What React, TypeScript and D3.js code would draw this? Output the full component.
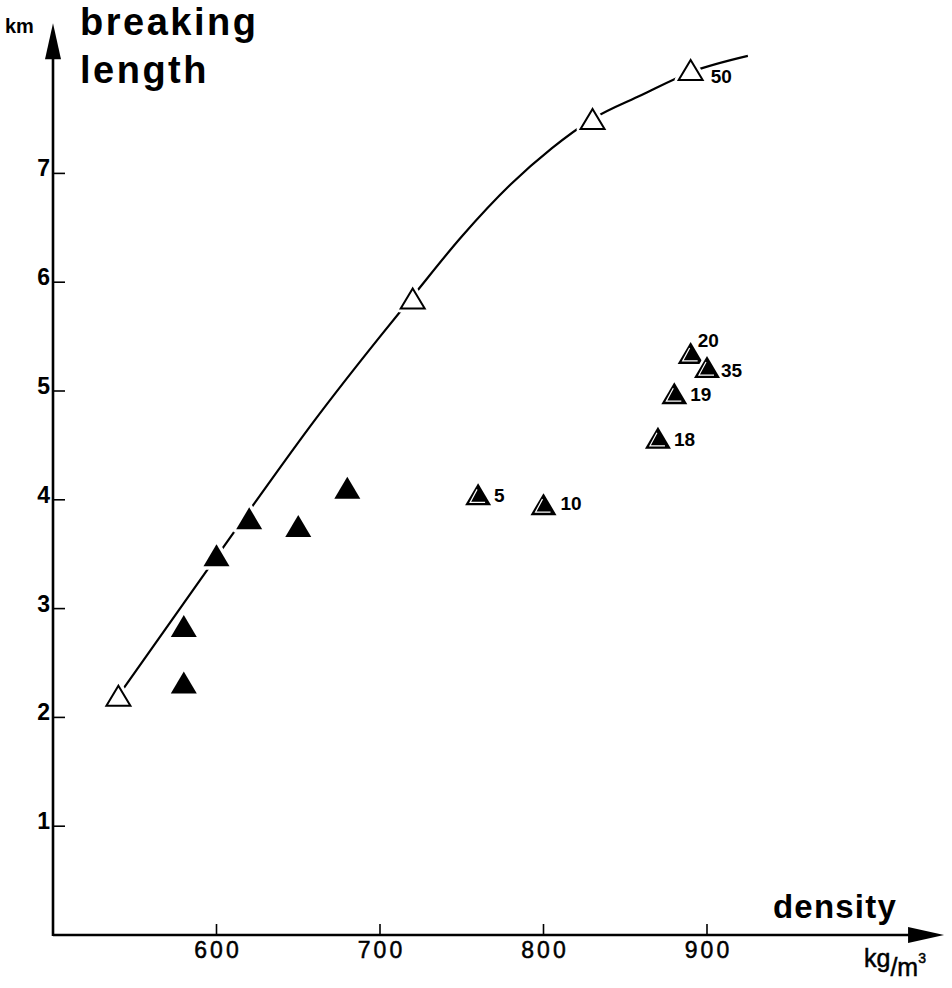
import React from "react";
import * as d3 from "d3";

const W = 952;
const H = 988;

// axis ticks
const densityTicks = [600, 700, 800, 900];
const lengthTicks = [1, 2, 3, 4, 5, 6, 7];

// fitted curve
const curveDensity = [541, 580, 620, 660, 700, 720, 750, 780, 805, 830, 860, 890, 925];
const curveLength = [2.22, 3.05, 3.9, 4.73, 5.5, 5.87, 6.42, 6.9, 7.23, 7.5, 7.72, 7.93, 8.08];

// open triangles
const openDensity = [540, 720, 830, 890];
const openLength = [2.2, 5.85, 7.5, 7.95];
const openLabels = ["", "", "", "50"];

// solid triangles
const solidDensity = [580, 580, 600, 620, 650, 680];
const solidLength = [2.32, 2.84, 3.49, 3.83, 3.76, 4.11];

// hatched triangles
const hatchDensity = [760, 800, 870, 880, 890, 900];
const hatchLength = [4.05, 3.96, 4.57, 4.98, 5.35, 5.22];
const hatchLabels = ["5", "10", "18", "19", "20", "35"];

const FONT = "'Liberation Sans', Arial, Helvetica, sans-serif";
const TW = 26; // triangle width
const TH = 22; // triangle height

const tri = (cx: number, cy: number, w = TW, h = TH) =>
  `M${cx},${cy - h / 2}L${cx + w / 2},${cy + h / 2}L${cx - w / 2},${cy + h / 2}Z`;

// label offsets (style only)
const labelOffset: Record<string, [number, number]> = {
  "20": [7, -6],
  "35": [14, 10],
  "50": [20, 13],
  "10": [17, 6],
};

export default function App() {
  const x = d3.scaleLinear().domain([500, 1000]).range([53, 870.5]);
  const y = d3.scaleLinear().domain([0, 8]).range([935, 64.6]);

  const x0 = x(500);
  const y0 = y(0);
  const xEnd = x(1045);
  const yTop = y(8.38);

  const curvePts = curveDensity.map((d, i) => [d, curveLength[i]] as [number, number]);
  const line = d3
    .line<[number, number]>()
    .x((d) => x(d[0]))
    .y((d) => y(d[1]))
    .curve(d3.curveMonotoneX);

  const label = (txt: string, cx: number, cy: number) => {
    if (!txt) return null;
    const [dx, dy] = labelOffset[txt] || [16, 8];
    return (
      <text x={cx + dx} y={cy + dy} fontSize={19} fontFamily={FONT} fontWeight="bold" fill="#000">
        {txt}
      </text>
    );
  };

  return (
    <svg
      width={W}
      height={H}
      style={{ position: "absolute", left: 0, top: 0, background: "#fff" }}
    >
      <rect width={W} height={H} fill="#fff" />

      {/* axes */}
      <line x1={x0} y1={y0} x2={xEnd - 20} y2={y0} stroke="#000" strokeWidth={2.6} />
      <path d={`M${xEnd},${y0}L${xEnd - 36},${y0 - 8}L${xEnd - 36},${y0 + 8}Z`} fill="#000" />
      <line x1={x0} y1={y0 + 1} x2={x0} y2={yTop + 20} stroke="#000" strokeWidth={2.6} />
      <path d={`M${x0},${yTop}L${x0 + 8},${yTop + 36}L${x0 - 8},${yTop + 36}Z`} fill="#000" />

      {/* x ticks */}
      {densityTicks.map((t) => (
        <g key={t}>
          <line x1={x(t)} y1={y0} x2={x(t)} y2={y0 - 11} stroke="#000" strokeWidth={1.6} />
          <text
            x={x(t) + 1.5}
            y={y0 + 23}
            textAnchor="middle"
            fontSize={23}
            fontFamily={FONT}
            letterSpacing={3}
            stroke="#000"
            strokeWidth={0.5}
            fill="#000"
          >
            {t}
          </text>
        </g>
      ))}

      {/* y ticks */}
      {lengthTicks.map((t) => (
        <g key={t}>
          <line x1={x0} y1={y(t)} x2={x0 + 12} y2={y(t)} stroke="#000" strokeWidth={1.6} />
          <text
            x={x0 - 3}
            y={y(t) + 3}
            textAnchor="end"
            fontSize={23}
            fontFamily={FONT}
            fontWeight="bold"
            fill="#000"
          >
            {t}
          </text>
        </g>
      ))}

      {/* axis titles */}
      <text x={5} y={33} fontSize={20} fontFamily={FONT} fontWeight="bold" fill="#000">km</text>
      <text x={80} y={35} fontSize={38} fontFamily={FONT} fontWeight="bold" letterSpacing={2.5} fill="#000">breaking</text>
      <text x={80} y={83} fontSize={38} fontFamily={FONT} fontWeight="bold" letterSpacing={2.5} fill="#000">length</text>
      <text x={773} y={918} fontSize={33} fontFamily={FONT} fontWeight="bold" letterSpacing={1.2} fill="#000">density</text>
      <text x={864} y={967} fontSize={25} fontFamily={FONT} fill="#000" stroke="#000" strokeWidth={0.5}>
        kg
        <tspan fontSize={25} dy={9}>/m</tspan>
        <tspan fontSize={14} dy={-13}>3</tspan>
      </text>

      {/* curve */}
      <path d={line(curvePts) || ""} fill="none" stroke="#000" strokeWidth={2.2} />

      {/* solid triangles */}
      {solidDensity.map((d, i) => {
        const cx = x(d);
        const cy = y(solidLength[i]);
        return (
          <g key={"s" + i}>
            <path d={tri(cx, cy)} fill="#fff" stroke="#fff" strokeWidth={7} strokeLinejoin="round" />
            <path d={tri(cx, cy)} fill="#000" />
          </g>
        );
      })}

      {/* hatched triangles */}
      {hatchDensity.map((d, i) => {
        const cx = x(d);
        const cy = y(hatchLength[i]);
        return (
          <g key={"h" + i}>
            <path d={tri(cx, cy)} fill="#fff" stroke="#fff" strokeWidth={5} strokeLinejoin="round" />
            <path d={tri(cx, cy)} fill="#000" />
            <path
              d={`M${cx - 1},${cy - TH / 2 + 6}L${cx - TW / 2 + 5},${cy + TH / 2 - 3}L${cx + TW / 2 - 6},${cy + TH / 2 - 3}`}
              fill="none"
              stroke="#fff"
              strokeWidth={1.2}
            />
            {label(hatchLabels[i], cx, cy)}
          </g>
        );
      })}

      {/* open triangles */}
      {openDensity.map((d, i) => {
        const cx = x(d);
        const cy = y(openLength[i]);
        return (
          <g key={"o" + i}>
            <path d={tri(cx, cy, 24, 20)} fill="#fff" stroke="#fff" strokeWidth={8} strokeLinejoin="round" />
            <path d={tri(cx, cy, 24, 20)} fill="#fff" stroke="#000" strokeWidth={2} strokeLinejoin="miter" />
            {label(openLabels[i], cx, cy)}
          </g>
        );
      })}
    </svg>
  );
}
